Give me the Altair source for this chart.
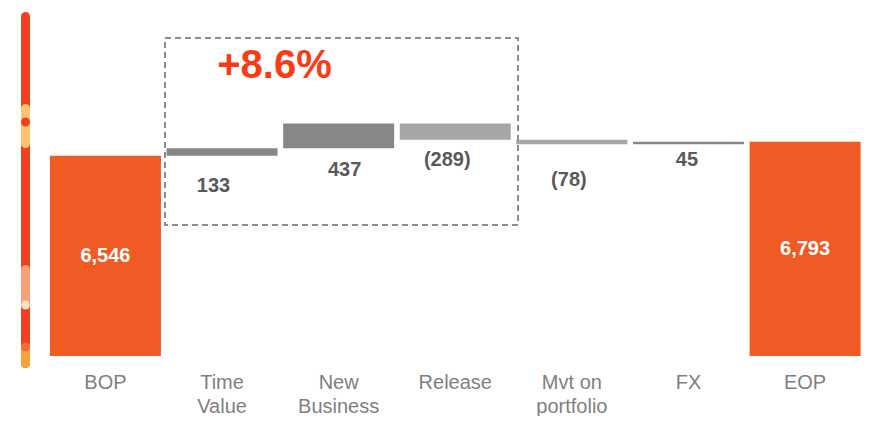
import altair as alt
import pandas as pd

# ---- data ----
categories = ["BOP", "Time Value", "New Business", "Release", "Mvt on portfolio", "FX", "EOP"]
tick_labels = [["BOP"], ["Time", "Value"], ["New", "Business"], ["Release"],
               ["Mvt on", "portfolio"], ["FX"], ["EOP"]]
values = [6546, 133, 437, -289, -78, 45, 6793]
kinds = ["total", "delta", "delta", "delta", "delta", "delta", "total"]
growth_label = "+8.6%"

# ---- style / layout ----
Y_MIN, Y_MAX = 3012, 9152          # visible value range (broken axis)
W, H = 855, 348
ORANGE = "#EF5A25"
DARK_GREY = "#878787"
LIGHT_GREY = "#A6A6A6"
NUM_COLOR = "#595959"
AXIS_COLOR = "#808080"
FONT = "Liberation Sans"
label_dx = [0, -8.5, 6, -8, -3, -1.5, 0]   # per-label pixel nudges
label_dy = [0, 30, 22, 20, 36, 16, 0]

rows = []
running = 0
for cat, v, k in zip(categories, values, kinds):
    if k == "total":
        start, end = Y_MIN, v
        running = v
        fill = ORANGE
        text = f"{v:,}"
    else:
        start, end = running, running + v
        running += v
        fill = DARK_GREY if v >= 0 else LIGHT_GREY
        text = f"{v:,}" if v >= 0 else f"({-v:,})"
    rows.append(dict(cat=cat, start=start, end=end, fill=fill, text=text,
                     kind=k, mid=(start + end) / 2, bottom=min(start, end)))
df = pd.DataFrame(rows)

label_expr = ""
for cat, lab in zip(categories, tick_labels):
    arr = "[" + ",".join("'" + s + "'" for s in lab) + "]"
    label_expr += f"datum.value == '{cat}' ? {arr} : "
label_expr += "datum.value"

x_enc = alt.X("cat:N", sort=categories,
              scale=alt.Scale(domain=categories, paddingInner=0.048,
                              paddingOuter=0.19, align=0.946),
              axis=alt.Axis(title=None, domain=False, ticks=False, labelAngle=0,
                            labelPadding=16, labelFontSize=20, labelFont=FONT,
                            labelColor=AXIS_COLOR, labelLineHeight=24,
                            labelLimit=300, labelExpr=label_expr))
y_scale = alt.Scale(domain=[Y_MIN, Y_MAX], nice=False, zero=False)

base = alt.Chart(df)

bars = base.mark_bar(clip=True).encode(
    x=x_enc,
    y=alt.Y("start:Q", scale=y_scale, axis=None),
    y2="end:Q",
    color=alt.Color("fill:N", scale=None),
)

total_text = base.transform_filter("datum.kind == 'total'").mark_text(
    font=FONT, fontSize=20, fontWeight="bold", color="white", baseline="middle"
).encode(x=alt.X("cat:N", sort=categories), y=alt.Y("mid:Q", scale=y_scale), text="text:N")

delta_layers = []
for i, (cat, k) in enumerate(zip(categories, kinds)):
    if k != "delta":
        continue
    delta_layers.append(
        base.transform_filter(alt.datum.cat == cat).mark_text(
            font=FONT, fontSize=20, fontWeight="bold", color=NUM_COLOR,
            baseline="middle", dx=label_dx[i], dy=label_dy[i]
        ).encode(x=alt.X("cat:N", sort=categories),
                 y=alt.Y("bottom:Q", scale=y_scale), text="text:N")
    )

one = alt.Data(values=[{}])

box = alt.Chart(one).mark_rect(fillOpacity=0, stroke="#8C8C8C", strokeWidth=2,
                               strokeDash=[6, 4]).encode(
    x=alt.value(157), x2=alt.value(510), y=alt.value(30), y2=alt.value(217))

growth = alt.Chart(one).mark_text(
    text=growth_label, font=FONT, fontSize=40, fontWeight="bold", color="#FA3C14",
    align="center", baseline="alphabetic").encode(x=alt.value(266.5), y=alt.value(70))

def seg(y1, y2, color):
    return alt.Chart(one).mark_rule(strokeWidth=9, strokeCap="round", color=color).encode(
        x=alt.value(17.5), y=alt.value(y1), y2=alt.value(y2))

def dot(y, color):
    return alt.Chart(one).mark_point(filled=True, shape="circle", size=81, opacity=1,
                                     color=color, strokeWidth=0).encode(
        x=alt.value(17.5), y=alt.value(y))

deco = [
    seg(8.5, 355.5, "#EE4023"),
    seg(100.5, 135.5, "#FEC46E"),
    dot(114, "#EE4023"),
    seg(261.5, 292.5, "#F7A07A"),
    dot(297, "#FDE2C0"),
    seg(339.5, 355.5, "#F9A23C"),
    dot(339, "#F36B3B"),
]

chart = alt.layer(*deco, bars, total_text, *delta_layers, box, growth).properties(
    width=W, height=H, padding=0
).configure_view(stroke=None)

chart.save("out.html", embed_options={"renderer": "svg", "actions": False})
